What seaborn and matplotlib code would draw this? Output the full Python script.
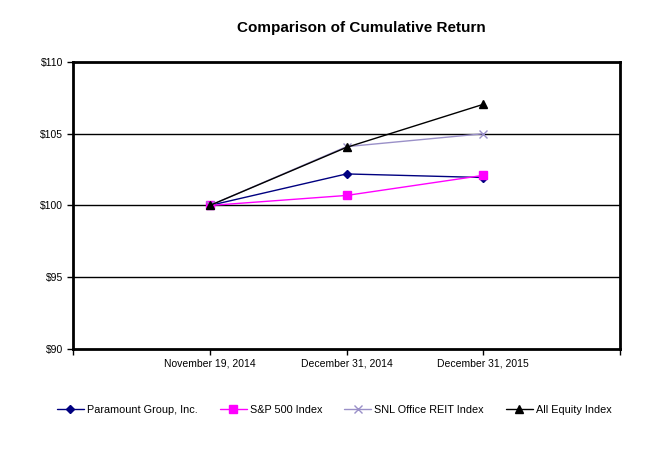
import matplotlib
matplotlib.use("Agg")
import matplotlib.pyplot as plt
import seaborn as sns
import pandas as pd
from matplotlib.lines import Line2D

dates = ["November 19, 2014", "December 31, 2014", "December 31, 2015"]
paramount = [100.0, 102.2, 101.95]
sp500 = [100.0, 100.7, 102.1]
snl_office = [100.0, 104.1, 105.0]
all_equity = [100.0, 104.05, 107.05]
series_names = ["Paramount Group, Inc.", "S&P 500 Index", "SNL Office REIT Index", "All Equity Index"]
y_ticks = [90, 95, 100, 105, 110]

sns.set_theme(style="white")
plt.rcParams['font.family'] = ['Liberation Sans', 'DejaVu Sans']
plt.rcParams['text.color'] = 'black'
plt.rcParams['xtick.color'] = 'black'
plt.rcParams['ytick.color'] = 'black'

palette = {series_names[0]: "#000080", series_names[1]: "#FF00FF",
           series_names[2]: "#9A90C8", series_names[3]: "#000000"}
markers = {series_names[0]: "D", series_names[1]: "s",
           series_names[2]: "x", series_names[3]: "^"}
sizes_m = {series_names[0]: 4, series_names[1]: 5.5, series_names[2]: 6, series_names[3]: 5.5}

fig = plt.figure(figsize=(6.53, 4.68), dpi=100)
ax = fig.add_axes([73/653, 1-349/468, (620-73)/653, (349-62)/468])

for name, vals in zip(series_names, [paramount, sp500, snl_office, all_equity]):
    d = pd.DataFrame({"Date": dates, "Value": vals})
    sns.lineplot(data=d, x="Date", y="Value", color=palette[name], marker=markers[name],
                 markersize=sizes_m[name], markeredgecolor=palette[name],
                 markeredgewidth=1, linewidth=1.0, ax=ax, sort=False, zorder=3)

ax.set_xlim(-1, 3)
ax.set_ylim(90, 110)
ax.set_xticks([-1, 0, 1, 2, 3])
ax.set_xticklabels([""] + dates + [""], fontsize=7.5, color="black")
ax.set_yticks(y_ticks)
ax.set_yticklabels([f"${t}" for t in y_ticks], fontsize=7.5, color="black")
for yv in [95, 100, 105]:
    ax.axhline(yv, color="black", linewidth=1.0, zorder=0)
for s in ax.spines.values():
    s.set_color("black")
    s.set_linewidth(2.0)
ax.tick_params(axis="both", which="both", direction="out", length=4, width=1,
               colors="black", left=True, bottom=True, pad=3)
ax.set_xlabel("")
ax.set_ylabel("")

fig.suptitle("Comparison of Cumulative Return", x=0.553, y=0.955,
             fontsize=11, fontweight="bold", color="black")

handles = [Line2D([], [], color=palette[n], marker=markers[n], markersize=sizes_m[n],
                  markeredgecolor=palette[n], linewidth=1.0) for n in series_names]
fig.legend(handles, series_names, loc="center", bbox_to_anchor=(0.512, 1-410/468),
           ncol=4, frameon=False, fontsize=7.8, handlelength=2.5, handletextpad=0.3,
           columnspacing=2.0, labelcolor="black")

fig.savefig("out.png", dpi=100)
